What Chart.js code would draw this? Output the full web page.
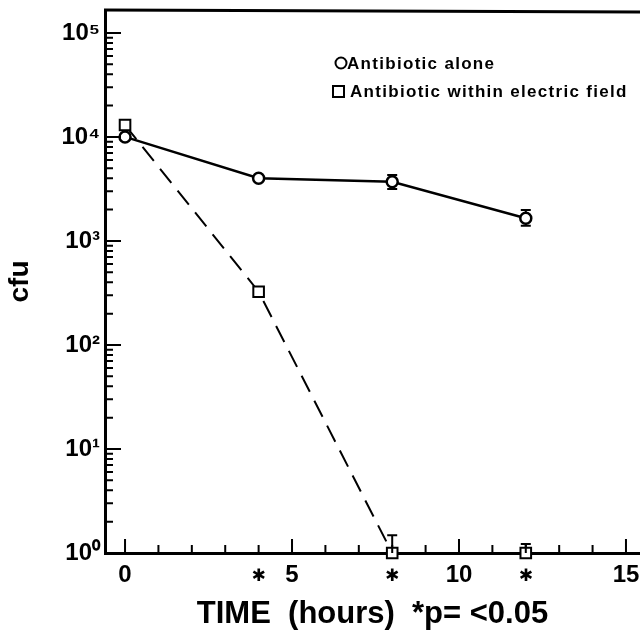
<!DOCTYPE html>
<html>
<head>
<meta charset="utf-8">
<script src="https://cdn.jsdelivr.net/npm/chart.js@4.4.0/dist/chart.umd.min.js"></script>
<style>
  body { margin: 0; background: #fff; }
</style>
</head>
<body>
<canvas id="cfuChart" width="640" height="633"></canvas>
<script>
// time points (hours)
const hours = [0, 4, 8, 12];

// antibiotic alone
const aloneCfu = [10000, 4000, 3700, 1650];
const aloneErrLow = [null, null, 3150, 1400];
const aloneErrHigh = [null, null, 4300, 1980];

// antibiotic within electric field
const fieldCfu = [13000, 325, 1, 1];
const fieldErrLow = [null, null, 1, 1];
const fieldErrHigh = [null, null, 1.48, 1.22];

const seriesLabels = ['Antibiotic alone', 'Antibiotic within electric field'];

const xTickValues = [0, 4, 5, 8, 10, 12, 15];
const xTickLabels = ['0', '✱', '5', '✱', '10', '✱', '15'];
const yTickValues = [1, 10, 100, 1000, 10000, 100000];
const yTickLabels = ['10⁰', '10¹', '10²', '10³', '10⁴', '10⁵'];

const FONT = '"Liberation Sans", Arial, sans-serif';

// inward tick marks, top frame line and error bars
const frame = {
    id: 'frame',
    beforeDatasetsDraw(chart) {
        const ctx = chart.ctx;
        const xs = chart.scales.x;
        const ys = chart.scales.y;
        ctx.save();
        ctx.strokeStyle = '#000';
        ctx.lineWidth = 2;
        const bars = [[aloneErrLow, aloneErrHigh], [fieldErrLow, fieldErrHigh]];
        bars.forEach(([lo, hi]) => {
            hours.forEach((h, i) => {
                if (hi[i] == null) return;
                const x = xs.getPixelForValue(h);
                const y1 = ys.getPixelForValue(lo[i]);
                const y2 = ys.getPixelForValue(hi[i]);
                ctx.beginPath();
                ctx.moveTo(x, y1); ctx.lineTo(x, y2);
                ctx.moveTo(x - 5, y1); ctx.lineTo(x + 5, y1);
                ctx.moveTo(x - 5, y2); ctx.lineTo(x + 5, y2);
                ctx.stroke();
            });
        });
        ctx.restore();
    },
    afterDraw(chart) {
        const ctx = chart.ctx;
        const area = chart.chartArea;
        const xs = chart.scales.x;
        const ys = chart.scales.y;
        ctx.save();
        ctx.strokeStyle = '#000';
        ctx.lineWidth = 2;
        ctx.beginPath();
        for (let k = 0; k <= 4; k++) {
            for (let m = 1; m <= 9; m++) {
                const y = ys.getPixelForValue(m * Math.pow(10, k));
                const len = m === 1 ? 16 : 8;
                ctx.moveTo(area.left, y); ctx.lineTo(area.left + len, y);
            }
        }
        const y5 = ys.getPixelForValue(100000);
        ctx.moveTo(area.left, y5); ctx.lineTo(area.left + 16, y5);
        for (let h = 0; h <= 15; h++) {
            const x = xs.getPixelForValue(h);
            const len = h % 5 === 0 ? 14 : 8;
            ctx.moveTo(x, area.bottom); ctx.lineTo(x, area.bottom - len);
        }
        ctx.stroke();

        ctx.lineWidth = 3;
        ctx.beginPath();
        ctx.moveTo(area.left - 1, area.top);
        ctx.lineTo(area.right, area.top + 2);
        ctx.stroke();

        // legend
        ctx.fillStyle = '#000';
        ctx.font = 'bold 17px ' + FONT;
        ctx.textBaseline = 'middle';
        ctx.letterSpacing = '1.3px';
        ctx.lineWidth = 2;
        ctx.beginPath();
        ctx.arc(341, 63, 5.5, 0, Math.PI * 2);
        ctx.stroke();
        ctx.fillText(chart.data.datasets[0].label, 347, 64);
        ctx.strokeRect(333, 86, 11, 11);
        ctx.fillText(chart.data.datasets[1].label, 350, 92);
        ctx.restore();
    }
};

new Chart(document.getElementById('cfuChart'), {
    type: 'line',
    data: {
        datasets: [{
            label: seriesLabels[0],
            data: hours.map((h, i) => ({ x: h, y: aloneCfu[i] })),
            borderColor: '#000',
            borderWidth: 2.5,
            pointStyle: 'circle',
            pointRadius: 5.5,
            pointBorderWidth: 2.5,
            pointBackgroundColor: '#fff',
            pointBorderColor: '#000',
            clip: false
        }, {
            label: seriesLabels[1],
            data: hours.map((h, i) => ({ x: h, y: fieldCfu[i] })),
            borderColor: '#000',
            borderWidth: 2,
            borderDash: [18, 10],
            pointStyle: 'rect',
            pointRadius: 7.5,
            pointBorderWidth: 2,
            pointBackgroundColor: '#fff',
            pointBorderColor: '#000',
            clip: false
        }]
    },
    options: {
        responsive: false,
        animation: false,
        devicePixelRatio: 1,
        layout: { autoPadding: false, padding: { top: 10, right: 0, bottom: 0, left: 0 } },
        plugins: {
            legend: { display: false },
            tooltip: { enabled: false }
        },
        scales: {
            x: {
                type: 'linear',
                min: -0.6,
                max: 15.42,
                afterBuildTicks: (scale) => {
                    scale.ticks = xTickValues.map(v => ({ value: v }));
                },
                afterFit: (scale) => {
                    scale.height = 80;
                    scale.paddingLeft = 0;
                    scale.paddingRight = 0;
                },
                grid: { display: false, drawTicks: false },
                border: { display: true, color: '#000', width: 3 },
                ticks: {
                    autoSkip: false,
                    maxRotation: 0,
                    padding: 8,
                    color: '#000',
                    font: (c) => (c.tick && c.tick.label === '✱')
                        ? { family: '"DejaVu Sans"', size: 17, weight: 'bold', lineHeight: 1.88 }
                        : { family: FONT, size: 24, weight: 'bold' },
                    callback: (v) => {
                        const i = xTickValues.indexOf(v);
                        return i >= 0 ? xTickLabels[i] : '';
                    }
                },
                title: {
                    display: true,
                    text: 'TIME  (hours)  *p= <0.05',
                    color: '#000',
                    font: { family: FONT, size: 31, weight: 'bold' },
                    padding: { top: 0, bottom: 0 }
                }
            },
            y: {
                type: 'logarithmic',
                min: 1,
                max: 166000,
                afterBuildTicks: (scale) => {
                    scale.ticks = yTickValues.map(v => ({ value: v }));
                },
                afterFit: (scale) => {
                    scale.width = 105;
                    scale.paddingTop = 0;
                    scale.paddingBottom = 0;
                },
                grid: { display: false, drawTicks: false },
                border: { display: true, color: '#000', width: 3 },
                ticks: {
                    padding: 5,
                    color: '#000',
                    font: { family: FONT, size: 24, weight: 'bold' },
                    callback: (v) => {
                        const i = yTickValues.indexOf(v);
                        return i >= 0 ? yTickLabels[i] : '';
                    }
                },
                title: {
                    display: true,
                    text: 'cfu',
                    color: '#000',
                    font: { family: FONT, size: 28, weight: 'bold' },
                    padding: { top: 3, bottom: 0 }
                }
            }
        }
    },
    plugins: [frame]
});
</script>
</body>
</html>
